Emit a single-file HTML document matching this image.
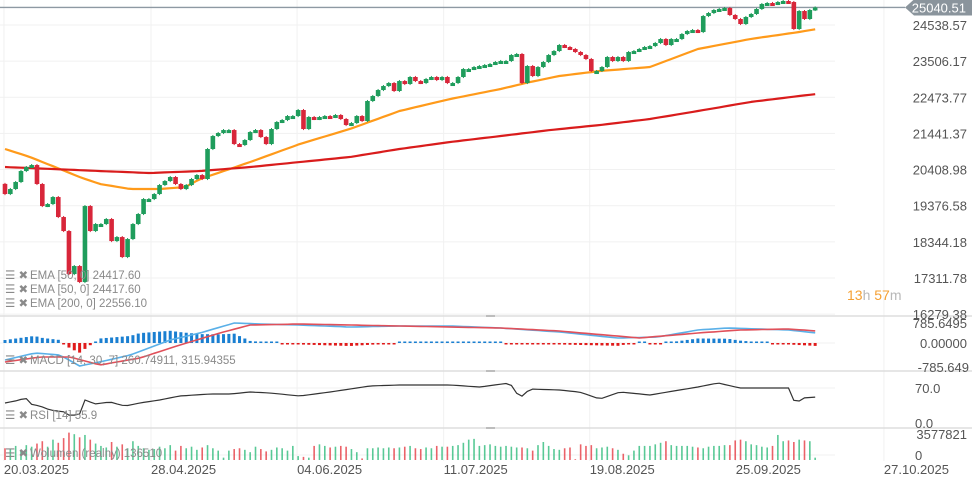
<!DOCTYPE html>
<html><head><meta charset="utf-8">
<style>
html,body{margin:0;padding:0;background:#fff;}
body{width:972px;height:486px;overflow:hidden;font-family:"Liberation Sans",sans-serif;}
svg text{font-family:"Liberation Sans",sans-serif;}
</style></head>
<body>
<svg id="chart" width="972" height="486" xmlns="http://www.w3.org/2000/svg">
<g id="grid"></g>
<g id="vol"></g>
<g id="rsi"></g>
<g id="macd"></g>
<g id="main"></g>
<g id="axis"></g>
<g font-size="11.5" fill="#8a8a8a">
  <text x="5" y="279">☰ ✖</text>
  <text x="30" y="279">EMA [50, 0]  24417.60</text>
  <text x="5" y="293">☰ ✖</text>
  <text x="30" y="293">EMA [50, 0]  24417.60</text>
  <text x="5" y="307">☰ ✖</text>
  <text x="30" y="307">EMA [200, 0]  22556.10</text>
  <text x="5" y="364">☰ ✖</text>
  <text x="30" y="364">MACD [14, 30, 7] 260.74911,  315.94355</text>
  <text x="5" y="419">☰ ✖</text>
  <text x="30" y="419">RSI [14] 55.9</text>
  <text x="5" y="457">☰ ✖</text>
  <text x="30" y="457">Wolumen (realny) 136510</text>
</g>
<text x="847" y="300" font-size="14"><tspan fill="#f5a033">13</tspan><tspan fill="#b8b8b8">h </tspan><tspan fill="#f5a033">57</tspan><tspan fill="#b8b8b8">m</tspan></text>
</svg>
<script>
const closes=[19710,19853,20053,20367,20481,20538,19996,19367,19424,19624,19053,18653,17424,17653,17196,19367,18653,18853,18853,18996,18367,18481,17910,18424,18853,19139,19567,19567,19710,19967,20081,20196,19996,19853,19967,20139,20253,20139,20996,21367,21453,21538,21538,21138,21110,21253,21481,21538,21338,21138,21567,21767,21824,21938,21938,22110,21567,21910,21853,21910,21938,21910,21967,21853,21681,21738,21938,21795,22367,22510,22681,22795,22881,22653,22938,22853,23053,22938,22881,22996,23053,22967,23053,22881,22881,23053,23281,23281,23338,23367,23395,23424,23481,23510,23510,23681,23710,22881,23367,23081,23338,23481,23681,23795,23967,23910,23853,23767,23681,23567,23224,23224,23338,23624,23510,23624,23510,23767,23795,23853,23910,23938,24024,24138,23967,24138,24138,24281,24367,24395,24338,24795,24881,24967,24996,25024,24824,24710,24567,24767,24853,24996,25138,25167,25138,25195,25224,25195,24424,24938,24710,24967,25040];
const firstOpen=20000;
const volumes=[1500,1400,1800,1300,1900,1700,2100,2400,1700,2600,2200,2800,3500,3300,2900,3200,2600,2100,1800,1600,2300,1700,2000,1500,2400,1800,1500,1300,1400,1700,1500,1900,1200,1800,1500,1700,1300,1600,1900,1500,1200,300,1200,1400,1500,1300,1000,1700,1400,1100,1300,1600,1500,1200,1800,500,400,300,1800,2000,1800,1600,1700,1800,1700,1400,1000,200,1500,1500,1600,1500,1600,1500,1600,1700,1800,1500,1400,1600,1500,1800,1700,1700,1800,1900,2200,2600,2700,1800,1900,2000,1800,1700,1800,1700,1600,1600,1500,1200,1900,2300,1800,1400,1300,1500,1600,100,2000,1800,1900,1500,1600,1700,1500,1300,800,600,1200,1800,1800,1800,2000,2200,2400,1900,1800,1800,1800,1700,1600,1500,1700,1800,1800,1900,1900,2500,2600,2400,2000,1900,1700,1600,1800,3200,2400,2500,2300,2600,2500,2400,300,300];
const emaFastIdx=[0,4.7,10.3,14,17.8,23.5,29,33.8,36.6,46,55.3,64.7,74,83.5,93,98.5,104,111.6,121,130,139.8,149,152.3];
const emaFastVal=[20996,20767,20424,20196,19996,19853,19853,19910,20139,20624,21138,21567,22081,22424,22710,22910,23081,23224,23338,23853,24138,24338,24424];
const emaSlowIdx=[0,9,17.8,27.2,36.6,46,55.3,64.7,74,83.5,93,102.3,111.6,121,130,139.8,149,152.3];
const emaSlowVal=[20481,20424,20367,20310,20367,20481,20624,20767,20996,21196,21367,21538,21681,21853,22081,22338,22510,22567];
const macdIdx=[0,5.6,10.3,14,17.8,23.5,31,36.6,43,47.8,55.3,64.7,74,83.5,93,104,115,122.5,130,135.6,147,152.3];
const macdVal=[-668,-393,-471,-903,-746,-471,118,393,786,746,707,628,668,668,589,432,196,236,511,589,511,393];
const sigIdx=[0,6.6,12.2,17.8,25.3,32.8,40.3,46,55.3,74,93,104,119,130,137.9,147,152.3];
const sigVal=[-746,-550,-550,-864,-589,-79,393,707,746,668,589,471,196,393,511,550,471];
const rsiIdx=[0,2.8,3.8,4.7,6.6,8.4,11.3,12.2,14,15,16.9,19.7,22.5,25.3,29,32.8,38.5,42.2,46,49.7,55.3,61,68.5,74,83.5,89.1,94.7,96.6,98.5,104,107.8,111.6,115.4,121,126.6,130,133.8,137.9,141.7,147,148.3,149.7,152.3];
const rsiVal=[40,46,52,38,34,26,22,14,18,46,38,42,34,40,46,54,58,58,62,60,54,62,74,76,76,72,80,50,68,66,62,48,62,56,66,72,80,70,70,70,38,50,52];
const priceTicks=[24538.57,23506.17,22473.77,21441.37,20408.98,19376.58,18344.18,17311.78,16279.38];
const dateLabels=["20.03.2025","28.04.2025","04.06.2025","11.07.2025","19.08.2025","25.09.2025","27.10.2025"];
const dateIdx=[-0.2,27.4,54.8,82.3,109.7,137.1,164.9];

const NS="http://www.w3.org/2000/svg";
function mk(tag,attrs,parent){const e=document.createElementNS(NS,tag);for(const k in attrs)e.setAttribute(k,attrs[k]);parent.appendChild(e);return e;}
const X=i=>5+i*5.33;
const Y=v=>25+(24538.57-v)/1032.4*36.14;
const YM=v=>343-v/785.65*20;
const YR=v=>423-v*0.5;
const YV=v=>460-v/3577.821*28;
function interp(idx,val,i){if(i<=idx[0])return val[0];for(let k=1;k<idx.length;k++){if(i<=idx[k]){const t=(i-idx[k-1])/(idx[k]-idx[k-1]);return val[k-1]+t*(val[k]-val[k-1]);}}return val[val.length-1];}
const n=closes.length;
const G=document.getElementById('grid'),M=document.getElementById('main'),A=document.getElementById('axis');
const MC=document.getElementById('macd'),R=document.getElementById('rsi'),V=document.getElementById('vol');

priceTicks.forEach((t,k)=>{
 const l=mk('line',{x1:0,x2:835,y1:Y(t),y2:Y(t),stroke:'#f1f1f1','stroke-width':1},G);
 
 
 const tx=mk('text',{x:967,y:Y(t)+5,'text-anchor':'end','font-size':13,fill:'#555'},A);
 tx.textContent=t.toFixed(2);
 
 
});
dateLabels.forEach((d,k)=>{
 const x=X(dateIdx[k]);
 const l=mk('line',{x1:x,x2:x,y1:0,y2:461,stroke:'#f1f1f1','stroke-width':1},G);
 
 
 const tx=mk('text',{x:x,y:474,'font-size':13,fill:'#555'},A);
 tx.textContent=d;
 
 
});
[[316,'macd-separator'],[371,'rsi-separator'],[428,'volume-separator']].forEach(s=>{
 const l=mk('line',{x1:0,x2:972,y1:s[0],y2:s[0],stroke:'#dedede','stroke-width':1.5},G);
 
 
 const h=mk('rect',{x:486,y:s[0]-1,width:9,height:2,fill:'#bdbdbd'},G);
 
 
});
[[343,'macd-zero-gridline'],[388,'rsi-70-gridline'],[455,'volume-zero-gridline']].forEach(s=>{
 const l=mk('line',{x1:0,x2:835,y1:s[0],y2:s[0],stroke:'#f1f1f1'},G);
 
 
});
[['785.6495',328,967,'end'],['0.00000',348,967,'end'],['-785.649',372,969,'end'],['70.0',393,915,'start'],['0.0',428,915,'start'],['3577821',439,967,'end'],['0',460,915,'start']].forEach(s=>{
 const tx=mk('text',{x:s[2],y:s[1],'text-anchor':s[3],'font-size':13,fill:'#555'},A);
 tx.textContent=s[0];
 
 
});

const last=closes[n-1];
const yl=Y(last);
const pl=mk('line',{x1:0,x2:905,y1:yl,y2:yl,stroke:'#8e99a3','stroke-width':1.3},M);


const tag=mk('path',{d:`M905 ${yl} L914 ${yl-8} L972 ${yl-8} L972 ${yl+8} L914 ${yl+8} Z`,fill:'#8a949c'},M);


const tt=mk('text',{x:966,y:yl+5,'text-anchor':'end','font-size':13,fill:'#fff'},M);
tt.textContent='25040.51';



function linePath(idx,val,yf){let d='';for(let i=0;i<n;i++){const v=interp(idx,val,i);d+=(i?'L':'M')+X(i).toFixed(1)+' '+yf(v).toFixed(1);}return d;}
const e1=mk('path',{d:linePath(emaFastIdx,emaFastVal,Y),fill:'none',stroke:'#ff9a1a','stroke-width':2.2,'stroke-linejoin':'round'},M);


const e2=mk('path',{d:linePath(emaSlowIdx,emaSlowVal,Y),fill:'none',stroke:'#d91c1c','stroke-width':2.2,'stroke-linejoin':'round'},M);



for(let i=0;i<n;i++){
 const o=i?closes[i-1]:firstOpen,c=closes[i];
 const up=c>=o,col=up?'#1f9d5c':'#d8263a';
 const hi=Math.max(o,c)+30,lo=Math.min(o,c)-30;
 const x=X(i);
 const w=mk('line',{x1:x,x2:x,y1:Y(hi),y2:Y(lo),stroke:col,'stroke-width':1},M);
 
 
 const top=Y(Math.max(o,c)),h=Math.max(3,Y(Math.min(o,c))-top);
 const b=mk('rect',{x:x-2.3,y:top,width:4.6,height:h,fill:col},M);
 
 
}

for(let i=0;i<n;i++){
 const h=(interp(macdIdx,macdVal,i)-interp(sigIdx,sigVal,i))*1.5;
 let hp=h/785.65*20; if(Math.abs(hp)<1.5)hp=hp<0?-1.5:1.5;
 const r=mk('rect',{x:X(i)-1.5,y:hp>0?343-hp:343,width:3,height:Math.abs(hp),fill:h>=0?'#1a7fd1':'#e01b1b'},MC);
 
 
}
const ml=mk('path',{d:linePath(macdIdx,macdVal,YM),fill:'none',stroke:'#5ab0e8','stroke-width':1.6},MC);


const sl=mk('path',{d:linePath(sigIdx,sigVal,YM),fill:'none',stroke:'#e0505a','stroke-width':1.6},MC);



const rl=mk('path',{d:linePath(rsiIdx,rsiVal,YR),fill:'none',stroke:'#333','stroke-width':1.2},R);



for(let i=0;i<n;i++){
 const o=i?closes[i-1]:firstOpen,c=closes[i];
 const b=mk('rect',{x:X(i)-0.8,y:YV(volumes[i]),width:1.6,height:460-YV(volumes[i]),fill:c>=o?'#3cbf84':'#e8474f',opacity:0.85},V);
 
 
}
</script>
</body></html>
